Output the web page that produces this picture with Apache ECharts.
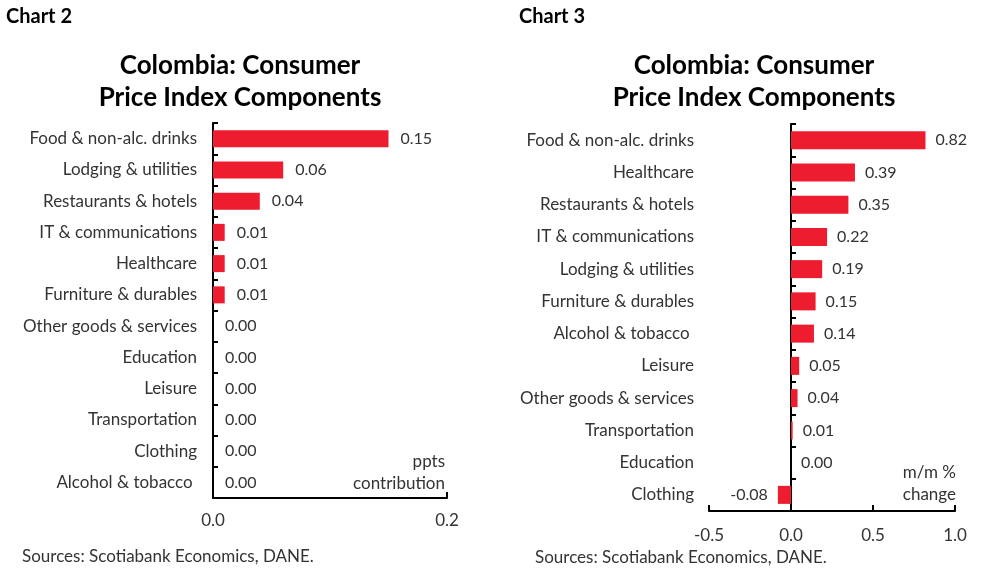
<!DOCTYPE html>
<html><head><meta charset="utf-8">
<script src="https://cdn.jsdelivr.net/npm/echarts@6/dist/echarts.min.js"></script>
<style>html,body{margin:0;padding:0;background:#fff}#c{width:994px;height:579px}</style>
</head><body><div id="c"></div>
<script>
const cats2 = ["Food & non-alc. drinks","Lodging & utilities","Restaurants & hotels","IT & communications","Healthcare","Furniture & durables","Other goods & services","Education","Leisure","Transportation","Clothing","Alcohol & tobacco "];
const vals2 = [0.15,0.06,0.04,0.01,0.01,0.01,0.00,0.00,0.00,0.00,0.00,0.00];
const cats3 = ["Food & non-alc. drinks","Healthcare","Restaurants & hotels","IT & communications","Lodging & utilities","Furniture & durables","Alcohol & tobacco ","Leisure","Other goods & services","Transportation","Education","Clothing"];
const vals3 = [0.82,0.39,0.35,0.22,0.19,0.15,0.14,0.05,0.04,0.01,0.00,-0.08];
const xTicks2 = {min:0, max:0.2, interval:0.2};
const xTicks3 = {min:-0.5, max:1.0, interval:0.5};

const FONT = 'Lato';
const RED = '#ED1C2E';
const TXT = '#333';
const chart = echarts.init(document.getElementById('c'));
const lab = {fontFamily:FONT, fontSize:17, color:TXT};
const vlab = {fontFamily:FONT, fontSize:16, color:TXT};
chart.setOption({
  animation:false,
  grid:[
    {left:213, top:123, width:234, height:375},
    {left:709, top:124, width:246, height:387}
  ],
  xAxis:[
    {gridIndex:0, type:'value', min:xTicks2.min, max:xTicks2.max, interval:xTicks2.interval,
     axisLine:{show:true, lineStyle:{color:'#000', width:2}},
     axisTick:{show:true, inside:true, length:6, lineStyle:{color:'#000', width:2}},
     splitLine:{show:false},
     axisLabel:Object.assign({margin:14, formatter:v=>v.toFixed(1)}, lab)},
    {gridIndex:1, type:'value', min:xTicks3.min, max:xTicks3.max, interval:xTicks3.interval,
     axisLine:{show:true, onZero:false, lineStyle:{color:'#000', width:2}},
     axisTick:{show:true, inside:true, length:6, lineStyle:{color:'#000', width:2}},
     splitLine:{show:false},
     axisLabel:Object.assign({margin:16, formatter:v=>v.toFixed(1)}, lab)}
  ],
  yAxis:[
    {gridIndex:0, type:'category', data:cats2, inverse:true,
     axisLine:{show:true, onZero:false, lineStyle:{color:'#000', width:2}},
     axisTick:{show:true, inside:true, length:5, lineStyle:{color:'#000', width:2}},
     axisLabel:Object.assign({margin:16}, lab)},
    {gridIndex:1, type:'category', data:cats3, inverse:true,
     axisLine:{show:false, onZero:false},
     axisTick:{show:false},
     axisLabel:Object.assign({margin:15}, lab)},
    {gridIndex:1, type:'category', data:cats3, inverse:true, position:'left',
     axisLine:{show:true, onZero:true, lineStyle:{color:'#000', width:2}},
     axisTick:{show:true, inside:true, length:5, lineStyle:{color:'#000', width:2}},
     axisLabel:{show:false}}
  ],
  series:[
    {type:'bar', xAxisIndex:0, yAxisIndex:0, data:vals2, barWidth:17,
     itemStyle:{color:RED},
     label:Object.assign({show:true, position:'right', distance:12, formatter:p=>p.value.toFixed(2)}, vlab)},
    {type:'bar', xAxisIndex:1, yAxisIndex:2, barWidth:18,
     data:vals3.map(v=>({value:v, label:{position: v<0 ? 'left':'right'}})),
     itemStyle:{color:RED},
     label:Object.assign({show:true, distance:10, formatter:p=>p.value.toFixed(2)}, vlab)}
  ],
  graphic:[
    {type:'text', left:6, top:7, style:{text:'Chart 2', font:'bold 20px '+FONT, fill:'#000'}},
    {type:'text', left:519, top:7, style:{text:'Chart 3', font:'bold 20px '+FONT, fill:'#000'}},
    {type:'text', x:240, y:82, style:{text:'Colombia: Consumer\nPrice Index Components', font:'bold 26px '+FONT, fill:'#000', textAlign:'center', textVerticalAlign:'middle', lineHeight:32}},
    {type:'text', x:754, y:82, style:{text:'Colombia: Consumer\nPrice Index Components', font:'bold 26px '+FONT, fill:'#000', textAlign:'center', textVerticalAlign:'middle', lineHeight:32}},
    {type:'text', x:445, y:473, style:{text:'ppts\ncontribution', font:'17px '+FONT, fill:TXT, textAlign:'right', textVerticalAlign:'middle', lineHeight:22}},
    {type:'text', x:956, y:484, style:{text:'m/m %\nchange', font:'17px '+FONT, fill:TXT, textAlign:'right', textVerticalAlign:'middle', lineHeight:22}},
    {type:'text', x:22, y:557, style:{text:'Sources: Scotiabank Economics, DANE.', font:'17px '+FONT, fill:TXT, textVerticalAlign:'middle'}},
    {type:'text', x:535, y:558, style:{text:'Sources: Scotiabank Economics, DANE.', font:'17px '+FONT, fill:TXT, textVerticalAlign:'middle'}}
  ]
});
</script></body></html>
